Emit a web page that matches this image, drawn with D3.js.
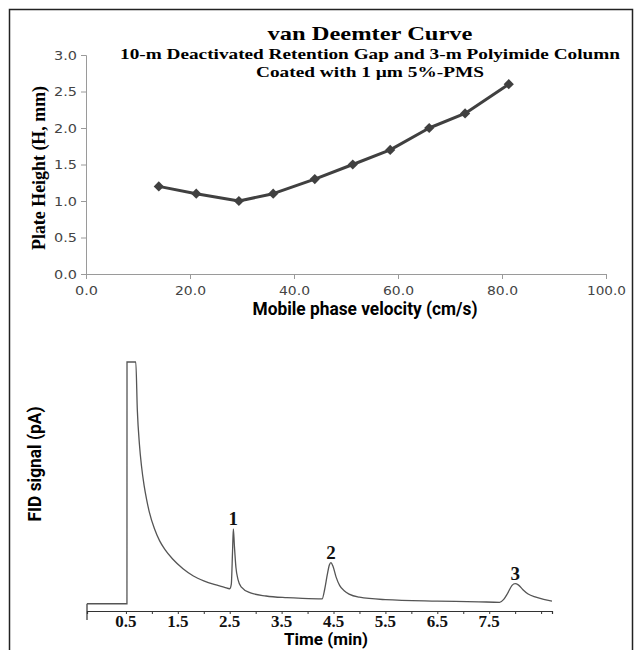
<!DOCTYPE html>
<html>
<head>
<meta charset="utf-8">
<script src="https://cdn.jsdelivr.net/npm/d3@7"></script>
<style>
  body { margin: 0; background: #fff; }
  svg { display: block; }
</style>
</head>
<body>
<div id="chart"></div>
<script>
(function () {
  const WIDTH = 640;
  const HEIGHT = 650;

  // van Deemter data
  const velocity = [14.0, 21.2, 29.4, 36.0, 44.0, 51.3, 58.5, 66.0, 72.9, 81.3];
  const plateHeight = [1.2, 1.1, 1.0, 1.1, 1.3, 1.5, 1.7, 2.0, 2.2, 2.6];
  const vTicks = [0, 20, 40, 60, 80, 100];
  const hTicks = [0, 0.5, 1.0, 1.5, 2.0, 2.5, 3.0];

  // chromatogram trace (min, pA arbitrary)
  const timeMin = [-0.25, 0.52, 0.521, 0.69, 0.72, 0.76, 0.80, 0.85, 0.90, 0.95, 1.05, 1.15, 1.25, 1.4, 1.6, 1.8, 2.0, 2.2, 2.4, 2.5,
    2.53, 2.555, 2.57, 2.59, 2.62, 2.66, 2.72, 2.9, 3.2, 3.6, 3.9, 4.28,
    4.33, 4.38, 4.42, 4.45, 4.49, 4.55, 4.62, 4.7, 4.8, 5.0, 5.5, 6.5, 7.3, 7.70,
    7.78, 7.86, 7.94, 8.0, 8.06, 8.15, 8.25, 8.4, 8.55, 8.71];
  const signal = [0, 0, 100, 100, 80, 66, 57, 49, 43, 38, 31, 26, 22.5, 18.5, 14.5, 11.5, 9.5, 8, 6.8, 6.2,
    8, 22, 31, 24, 15, 10, 7, 4.5, 3.2, 2.5, 2.2, 2.0,
    6, 12, 16, 17, 15.5, 11, 7.5, 5.5, 4.0, 2.7, 1.7, 1.1, 0.8, 0.6,
    1.8, 4.5, 7.6, 8.3, 7.8, 5.8, 4.0, 2.7, 1.8, 1.1];
  const timeTicks = [0.5, 1, 1.5, 2, 2.5, 3, 3.5, 4, 4.5, 5, 5.5, 6, 6.5, 7, 7.5, 8, 8.5];
  const timeLabels = [0.5, 1.5, 2.5, 3.5, 4.5, 5.5, 6.5, 7.5];
  const peakLabels = ["1", "2", "3"];
  const peakTimes = [2.57, 4.45, 8.0];
  const peakSignal = [31, 17, 8.3];

  const svg = d3.select("#chart").append("svg")
    .attr("width", WIDTH)
    .attr("height", HEIGHT);

  // outer frame
  svg.append("path")
    .attr("d", "M9.5,650 V9.5 H632.5 V650")
    .attr("fill", "none")
    .attr("stroke", "#222")
    .attr("stroke-width", 1.5);

  // ---------- top chart ----------
  const x1 = d3.scaleLinear().domain([0, 100]).range([86, 606]);
  const y1 = d3.scaleLinear().domain([0, 3]).range([274, 55]);

  const top = svg.append("g");

  const xAxis1 = top.append("g")
    .attr("transform", `translate(0,${y1(0)})`)
    .call(d3.axisBottom(x1).tickValues(vTicks).tickFormat(d3.format(".1f")).tickSizeOuter(0).tickSize(5).tickPadding(4));
  const yAxis1 = top.append("g")
    .attr("transform", `translate(${x1(0)},0)`)
    .call(d3.axisLeft(y1).tickValues(hTicks).tickFormat(d3.format(".1f")).tickSizeOuter(0).tickSize(5).tickPadding(4));

  [xAxis1, yAxis1].forEach(a => {
    a.select(".domain").attr("stroke", "#9a9a9a");
    a.selectAll(".tick line").attr("stroke", "#9a9a9a");
    a.selectAll(".tick text")
      .attr("fill", "#444")
      .style("font-family", "DejaVu Sans, Verdana, sans-serif")
      .style("font-size", "13px")
      .attr("textLength", function () { return this.textContent.length * 8 - 1; })
      .attr("lengthAdjust", "spacingAndGlyphs");
  });
  xAxis1.selectAll(".tick text").attr("dy", "0.9em");

  const pts = velocity.map((v, i) => [v, plateHeight[i]]);
  top.append("path")
    .datum(pts)
    .attr("fill", "none")
    .attr("stroke", "#404040")
    .attr("stroke-width", 3)
    .attr("stroke-linejoin", "round")
    .attr("d", d3.line().x(d => x1(d[0])).y(d => y1(d[1])));

  top.selectAll(".marker")
    .data(pts)
    .join("path")
    .attr("class", "marker")
    .attr("d", d3.symbol().type(d3.symbolSquare).size(52))
    .attr("fill", "#404040")
    .attr("transform", d => `translate(${x1(d[0])},${y1(d[1])}) rotate(45)`);

  const serif = "Liberation Serif, Times New Roman, serif";
  top.append("text")
    .attr("x", 370).attr("y", 40)
    .attr("text-anchor", "middle")
    .style("font-family", serif).style("font-weight", "bold").style("font-size", "19px")
    .attr("textLength", 205).attr("lengthAdjust", "spacingAndGlyphs")
    .text("van Deemter Curve");
  top.append("text")
    .attr("x", 370).attr("y", 59)
    .attr("text-anchor", "middle")
    .style("font-family", serif).style("font-weight", "bold").style("font-size", "15px")
    .attr("textLength", 500).attr("lengthAdjust", "spacingAndGlyphs")
    .text("10-m Deactivated Retention Gap and 3-m Polyimide Column");
  top.append("text")
    .attr("x", 370).attr("y", 77)
    .attr("text-anchor", "middle")
    .style("font-family", serif).style("font-weight", "bold").style("font-size", "15px")
    .attr("textLength", 228).attr("lengthAdjust", "spacingAndGlyphs")
    .text("Coated with 1 µm 5%-PMS");

  top.append("text")
    .attr("transform", "translate(45,168) rotate(-90)")
    .attr("text-anchor", "middle")
    .style("font-family", serif).style("font-weight", "bold").style("font-size", "19px")
    .attr("textLength", 164).attr("lengthAdjust", "spacingAndGlyphs")
    .text("Plate Height (H, mm)");

  const narrow = "Liberation Sans Narrow, Roboto, Open Sans, sans-serif";
  top.append("text")
    .attr("x", 365).attr("y", 315)
    .attr("text-anchor", "middle")
    .style("font-family", narrow).style("font-weight", "bold").style("font-size", "18px")
    .attr("textLength", 225).attr("lengthAdjust", "spacingAndGlyphs")
    .text("Mobile phase velocity (cm/s)");

  // ---------- bottom chart ----------
  const x2 = d3.scaleLinear().domain([-0.25, 8.71]).range([87, 552]);
  const y2 = d3.scaleLinear().domain([-3, 100]).range([611, 362]);

  const bot = svg.append("g");

  const xAxis2 = bot.append("g")
    .attr("transform", `translate(0,${y2(-3)})`)
    .call(d3.axisBottom(x2).tickValues(timeTicks).tickFormat("").tickSizeOuter(0).tickSize(3));
  xAxis2.select(".domain").attr("stroke", "#333").attr("stroke-width", 1.2);
  xAxis2.selectAll(".tick line").attr("stroke", "#333");

  bot.append("g")
    .selectAll("text")
    .data(timeLabels)
    .join("text")
    .attr("x", d => x2(d))
    .attr("y", 627)
    .attr("text-anchor", "middle")
    .style("font-family", serif).style("font-weight", "bold").style("font-size", "17px")
    .attr("fill", "#111")
    .text(d => d.toFixed(1));

  // short y-axis stub
  bot.append("line")
    .attr("x1", x2(-0.25)).attr("x2", x2(-0.25))
    .attr("y1", y2(0)).attr("y2", 620)
    .attr("stroke", "#333").attr("stroke-width", 1.2);

  const trace = timeMin.map((t, i) => [t, signal[i]]);
  bot.append("path")
    .datum(trace)
    .attr("fill", "none")
    .attr("stroke", "#555")
    .attr("stroke-width", 1.3)
    .attr("d", d3.line().curve(d3.curveMonotoneX).x(d => x2(d[0])).y(d => y2(d[1])));

  bot.selectAll(".peak")
    .data(peakLabels)
    .join("text")
    .attr("class", "peak")
    .attr("x", (d, i) => x2(peakTimes[i]))
    .attr("y", (d, i) => y2(peakSignal[i]) - 4)
    .attr("text-anchor", "middle")
    .style("font-family", serif).style("font-weight", "bold").style("font-size", "19px")
    .attr("fill", "#111")
    .text(d => d);

  bot.append("text")
    .attr("transform", "translate(41,464) rotate(-90)")
    .attr("text-anchor", "middle")
    .style("font-family", narrow).style("font-weight", "bold").style("font-size", "18px")
    .attr("textLength", 115).attr("lengthAdjust", "spacingAndGlyphs")
    .text("FID signal (pA)");

  bot.append("text")
    .attr("x", 326).attr("y", 645)
    .attr("text-anchor", "middle")
    .style("font-family", narrow).style("font-weight", "bold").style("font-size", "16px")
    .attr("textLength", 84).attr("lengthAdjust", "spacingAndGlyphs")
    .text("Time (min)");
})();
</script>
</body>
</html>
